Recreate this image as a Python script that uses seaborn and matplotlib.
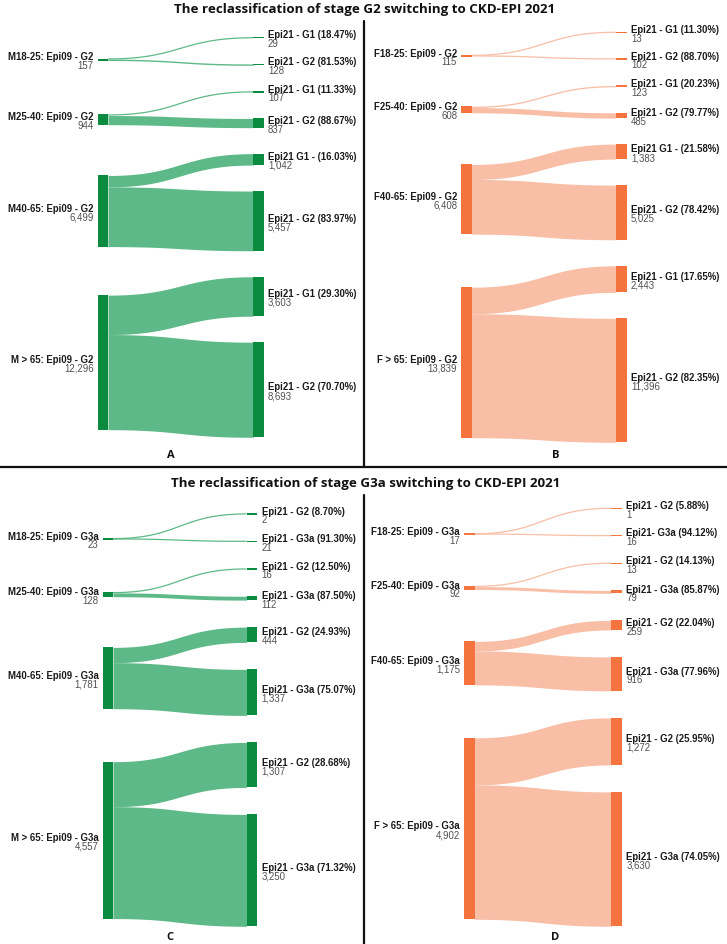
import numpy as np
import matplotlib
matplotlib.use("Agg")
import matplotlib.pyplot as plt
import seaborn as sns

# === DATI ===
# pannello A: maschi, stadio G2
src_A = ["M18-25: Epi09 - G2", "M25-40: Epi09 - G2", "M40-65: Epi09 - G2", "M > 65: Epi09 - G2"]
tot_A = [157, 944, 6499, 12296]
up_A = [29, 107, 1042, 3603]
down_A = [128, 837, 5457, 8693]
lab_up_A = ["Epi21 - G1 (18.47%)", "Epi21 - G1 (11.33%)", "Epi21 G1 - (16.03%)", "Epi21 - G1 (29.30%)"]
lab_down_A = ["Epi21 - G2 (81.53%)", "Epi21 - G2 (88.67%)", "Epi21 - G2 (83.97%)", "Epi21 - G2 (70.70%)"]

# pannello B: femmine, stadio G2
src_B = ["F18-25: Epi09 - G2", "F25-40: Epi09 - G2", "F40-65: Epi09 - G2", "F > 65: Epi09 - G2"]
tot_B = [115, 608, 6408, 13839]
up_B = [13, 123, 1383, 2443]
down_B = [102, 485, 5025, 11396]
lab_up_B = ["Epi21 - G1 (11.30%)", "Epi21 - G1 (20.23%)", "Epi21 G1 - (21.58%)", "Epi21 - G1 (17.65%)"]
lab_down_B = ["Epi21 - G2 (88.70%)", "Epi21 - G2 (79.77%)", "Epi21 - G2 (78.42%)", "Epi21 - G2 (82.35%)"]

# pannello C: maschi, stadio G3a
src_C = ["M18-25: Epi09 - G3a", "M25-40: Epi09 - G3a", "M40-65: Epi09 - G3a", "M > 65: Epi09 - G3a"]
tot_C = [23, 128, 1781, 4557]
up_C = [2, 16, 444, 1307]
down_C = [21, 112, 1337, 3250]
lab_up_C = ["Epi21 - G2 (8.70%)", "Epi21 - G2 (12.50%)", "Epi21 - G2 (24.93%)", "Epi21 - G2 (28.68%)"]
lab_down_C = ["Epi21 - G3a (91.30%)", "Epi21 - G3a (87.50%)", "Epi21 - G3a (75.07%)", "Epi21 - G3a (71.32%)"]

# pannello D: femmine, stadio G3a
src_D = ["F18-25: Epi09 - G3a", "F25-40: Epi09 - G3a", "F40-65: Epi09 - G3a", "F > 65: Epi09 - G3a"]
tot_D = [17, 92, 1175, 4902]
up_D = [1, 13, 259, 1272]
down_D = [16, 79, 916, 3630]
lab_up_D = ["Epi21 - G2 (5.88%)", "Epi21 - G2 (14.13%)", "Epi21 - G2 (22.04%)", "Epi21 - G2 (25.95%)"]
lab_down_D = ["Epi21- G3a (94.12%)", "Epi21 - G3a (85.87%)", "Epi21 - G3a (77.96%)", "Epi21 - G3a (74.05%)"]

TITLE_TOP = "The reclassification of stage G2 switching to CKD-EPI 2021"
TITLE_BOTTOM = "The reclassification of stage G3a switching to CKD-EPI 2021"

# === STILE ===
GREEN_NODE, GREEN_LINK = "#0B8B40", "#5DB987"
ORANGE_NODE, ORANGE_LINK = "#F5733F", "#F9BEA6"
NODE_W = 10.5
FS = 6.95
LABEL_FONT = ["Liberation Sans", "DejaVu Sans"]
TITLE_FONT = ["Open Sans", "DejaVu Sans"]

sns.set_theme(style="white")
plt.rcParams["font.family"] = LABEL_FONT


def link(ax, x0, x1, a0, a1, b0, b1, color):
    """Nastro curvo (bezier cubica) tra sorgente e destinazione"""
    u = np.linspace(0, 1, 80)
    dx = x1 - x0
    xs = (1 - u) ** 3 * x0 + 3 * (1 - u) ** 2 * u * (x0 + dx / 2) + 3 * (1 - u) * u ** 2 * (x1 - dx / 2) + u ** 3 * x1
    s = 3 * u ** 2 - 2 * u ** 3
    top = a0 + (b0 - a0) * s
    bot = a1 + (b1 - a1) * s
    if (a1 - a0) < 1.3:
        mid = (top + bot) / 2
        ax.plot(xs, mid, color=color, lw=0.9, solid_capstyle="butt", zorder=1)
    else:
        ax.fill_between(xs, top, bot, color=color, lw=0, zorder=1)


def node(ax, x, y0, y1, color):
    h = max(y1 - y0, 1.3)
    c = (y0 + y1) / 2
    ax.bar(x, h, width=NODE_W, bottom=c - h / 2, align="edge", color=color, lw=0, zorder=2)


def sankey(ax, srcs, tots, ups, downs, lab_up, lab_down, xs, xt, top, bottom, pad, ncol, lcol):
    tvals = []
    for a, b in zip(ups, downs):
        tvals += [a, b]
    k = (bottom - top - pad * (len(tvals) - 1)) / sum(tvals)
    pos = []
    y = top
    for v in tvals:
        pos.append((y, y + v * k))
        y += v * k + pad
    tlabels = []
    for a, b in zip(lab_up, lab_down):
        tlabels += [a, b]

    for i, (name, tot, a, b) in enumerate(zip(srcs, tots, ups, downs)):
        p1, p2 = pos[2 * i], pos[2 * i + 1]
        sc = (a * (p1[0] + p1[1]) / 2 + b * (p2[0] + p2[1]) / 2) / tot
        h = tot * k
        s0 = sc - h / 2
        link(ax, xs + NODE_W, xt, s0, s0 + a * k, p1[0], p1[1], lcol)
        link(ax, xs + NODE_W, xt, s0 + a * k, s0 + h, p2[0], p2[1], lcol)
        node(ax, xs, s0, s0 + h, ncol)
        ax.text(xs - 4, sc - 3.3, name, ha="right", va="center", fontsize=FS,
                fontweight="bold", color="#1a1a1a")
        ax.text(xs - 4, sc + 5.5, f"{tot:,}", ha="right", va="center", fontsize=FS,
                color="#505050")

    for (y0, y1), lab, v in zip(pos, tlabels, tvals):
        node(ax, xt, y0, y1, ncol)
        c = (y0 + y1) / 2
        ax.text(xt + NODE_W + 4.5, c - 3.3, lab, ha="left", va="center", fontsize=FS,
                fontweight="bold", color="#1a1a1a")
        ax.text(xt + NODE_W + 4.5, c + 5.5, f"{v:,}", ha="left", va="center", fontsize=FS,
                color="#505050")


fig = plt.figure(figsize=(7.27, 9.45), dpi=100)
ax = fig.add_axes([0, 0, 1, 1])
ax.set_xlim(0, 727)
ax.set_ylim(945, 0)
ax.axis("off")

sankey(ax, src_A, tot_A, up_A, down_A, lab_up_A, lab_down_A, 97.5, 253, 38.6, 438.3, 26, GREEN_NODE, GREEN_LINK)
sankey(ax, src_B, tot_B, up_B, down_B, lab_up_B, lab_down_B, 461, 616, 33.2, 443.3, 26, ORANGE_NODE, ORANGE_LINK)
sankey(ax, src_C, tot_C, up_C, down_C, lab_up_C, lab_down_C, 102.5, 246.5, 514.9, 927.3, 27, GREEN_NODE, GREEN_LINK)
sankey(ax, src_D, tot_D, up_D, down_D, lab_up_D, lab_down_D, 464, 611.3, 509.3, 927.3, 27, ORANGE_NODE, ORANGE_LINK)

# titoli e lettere dei pannelli
ax.text(365, 10, TITLE_TOP, ha="center", va="center", fontsize=9.6, fontweight="bold",
        family=TITLE_FONT, color="#111111")
ax.text(365.5, 483, TITLE_BOTTOM, ha="center", va="center", fontsize=9.6, fontweight="bold",
        family=TITLE_FONT, color="#111111")
for letter, x, y in [("A", 170.5, 455), ("B", 555.5, 455), ("C", 170, 937), ("D", 555.5, 937)]:
    ax.text(x, y, letter, ha="center", va="center", fontsize=8, fontweight="bold",
            family=TITLE_FONT, color="#111111")

# linee di separazione
ax.plot([0, 727], [468, 468], color="#111111", lw=1.6)
ax.plot([363.5, 363.5], [22, 468], color="#111111", lw=1.6)
ax.plot([363.5, 363.5], [496, 945], color="#111111", lw=1.6)

fig.savefig("out.png", dpi=100)
